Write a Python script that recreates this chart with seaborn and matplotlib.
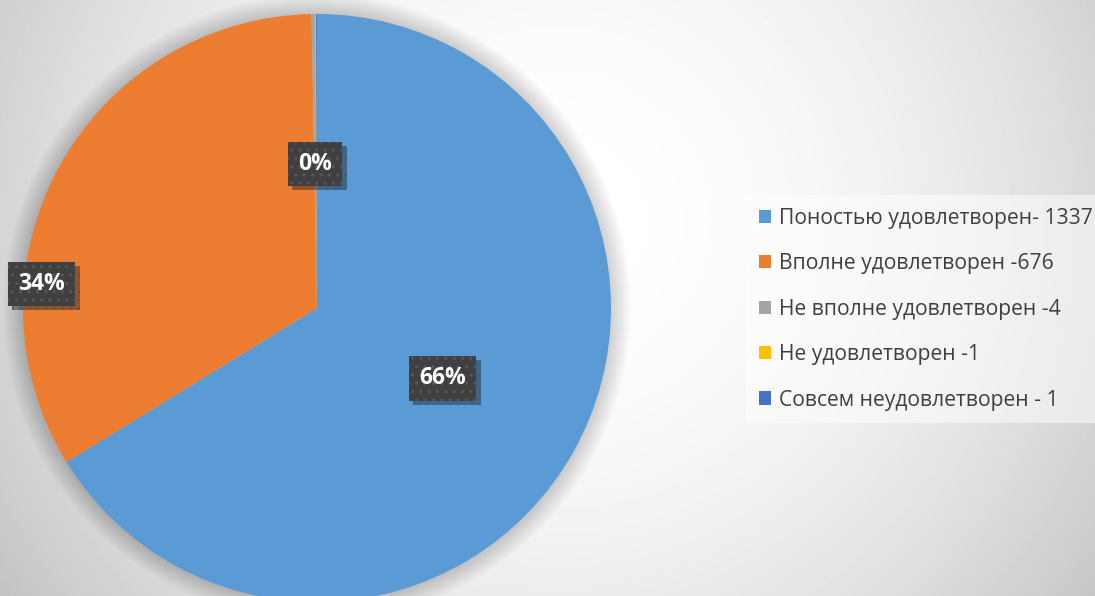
import numpy as np
import seaborn as sns
import matplotlib.pyplot as plt
import matplotlib.patheffects as pe
from matplotlib.patches import Circle

categories = ['Поностью удовлетворен- 1337', 'Вполне удовлетворен -676',
              'Не вполне удовлетворен -4', 'Не удовлетворен -1',
              'Совсем неудовлетворен - 1']
counts = [1337, 676, 4, 1, 1]
pct_labels = ['66%', '34%', '0%', '', '']
colors = ['#5B9BD5', '#ED7D31', '#A5A5A5', '#FFC000', '#4472C4']

sns.set_theme(style='white')
plt.rcParams['font.family'] = ['Open Sans', 'DejaVu Sans']

fig = plt.figure(figsize=(10.95, 5.96), dpi=100)

# radial grey background
bg = fig.add_axes([0, 0, 1, 1], zorder=0)
yy, xx = np.mgrid[0:596, 0:1095]
d = np.hypot(xx - 560, yy - 220)
val = 1 - 0.22 * (d / 650) ** 2
bg.imshow(val, cmap='gray', vmin=0, vmax=1, aspect='auto', interpolation='bilinear')
bg.axis('off')

ax = fig.add_axes([23 / 1095, -6 / 596, 588 / 1095, 588 / 596], zorder=1)
ax.patch.set_alpha(0)

# soft shadow round the pie
for i in range(24):
    ax.add_patch(Circle((0, 0), 1 + 0.003 * i, color='black', alpha=0.009,
                        lw=0, zorder=0, clip_on=False))

wedges, texts = ax.pie(counts, colors=colors, startangle=90, counterclock=False,
                       radius=1, wedgeprops=dict(linewidth=0))
for w in wedges:
    w.set_clip_on(False)
ax.set_xlim(-1, 1)
ax.set_ylim(-1, 1)
ax.set_aspect('equal')
ax.axis('off')

# percentage labels at the slice mid-angle; 34% sits near the outer edge
for w, lab in zip(wedges, pct_labels):
    if not lab:
        continue
    mid = np.deg2rad((w.theta1 + w.theta2) / 2)
    r = 0.49
    if lab == '34%':
        mid, r = np.deg2rad(175), 0.94
    t = ax.text(r * np.cos(mid), r * np.sin(mid), lab, ha='center', va='center',
                color='white', fontsize=16.5, fontweight='bold', zorder=5,
                bbox=dict(boxstyle='square,pad=0.45', facecolor='#404040',
                          edgecolor='#575757', hatch='..', linewidth=0))
    t.get_bbox_patch().set_path_effects(
        [pe.withSimplePatchShadow(offset=(3, -3), alpha=0.4)])

leg = fig.legend(wedges, categories, loc='upper left',
                 bbox_to_anchor=(746 / 1095, 1 - 195 / 596),
                 borderaxespad=0, frameon=True, fancybox=False,
                 fontsize=15.2, labelcolor='#404040',
                 handlelength=0.6, handleheight=0.6, handletextpad=0.35,
                 labelspacing=1.16, borderpad=0.6)
leg.get_frame().set_facecolor('white')
leg.get_frame().set_alpha(0.5)
leg.get_frame().set_linewidth(0)

fig.savefig('out.png', dpi=100)
